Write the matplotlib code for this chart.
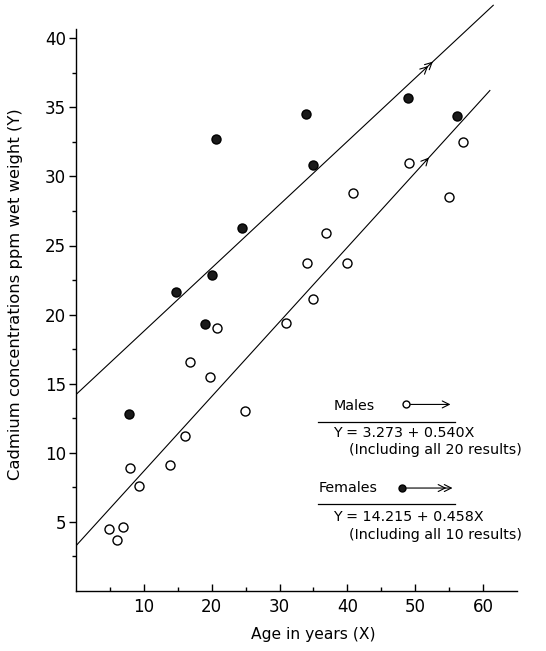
import numpy as np
import matplotlib.pyplot as plt

# males (open circles)
male_age = [4.8, 6.1, 7.0, 7.9, 9.3, 13.8, 16.0, 16.8, 19.7, 20.8,
            24.9, 30.9, 34.1, 35.0, 36.9, 39.9, 40.9, 49.1, 55.0, 57.0]
male_cd = [4.5, 3.7, 4.6, 8.9, 7.6, 9.1, 11.2, 16.6, 15.5, 19.0,
           13.0, 19.4, 23.7, 21.1, 25.9, 23.7, 28.8, 31.0, 28.5, 32.5]

# females (filled circles)
fem_age = [7.8, 14.7, 19.0, 20.1, 20.6, 24.5, 33.9, 35.0, 48.9, 56.1]
fem_cd = [12.8, 21.6, 19.3, 22.9, 32.7, 26.3, 34.5, 30.8, 35.7, 34.4]

# regression lines  Y = a + bX
male_a, male_b = 3.273, 0.540
fem_a, fem_b = 14.215, 0.458
male_xmax, fem_xmax = 61.0, 61.5

xticks = [10, 20, 30, 40, 50, 60]
yticks = [5, 10, 15, 20, 25, 30, 35, 40]

plt.rcParams['font.family'] = 'DejaVu Sans'

fig = plt.figure(figsize=(5.46, 6.51), dpi=100)
ax = fig.add_axes([76 / 546, 60 / 651, (517 - 76) / 546, 591 / 651])
ax.set_xlim(0, 65)
ax.set_ylim(0, 591 / 13.82)

# fitted lines
xm = np.array([0, male_xmax])
xf = np.array([0, fem_xmax])
ax.plot(xm, male_a + male_b * xm, color='black', lw=0.8)
ax.plot(xf, fem_a + fem_b * xf, color='black', lw=0.8)

# arrow heads on the lines
arr = dict(arrowstyle='->,head_length=0.5,head_width=0.25', lw=0.8, color='black')
xa = 52.3
ax.annotate('', xy=(xa, male_a + male_b * xa), xytext=(xa - 1, male_a + male_b * (xa - 1)),
            arrowprops=arr)
for xa in [52.2, 52.9]:
    ax.annotate('', xy=(xa, fem_a + fem_b * xa), xytext=(xa - 1, fem_a + fem_b * (xa - 1)),
                arrowprops=arr)

# points
ax.plot(male_age, male_cd, 'o', ms=6.5, mfc='white', mec='black', mew=1.0)
ax.plot(fem_age, fem_cd, 'o', ms=6.5, mfc='#1a1a1a', mec='black', mew=1.0)

# axes styling
for s in ['top', 'right']:
    ax.spines[s].set_visible(False)
ax.spines['left'].set_bounds(0, 40.7)
ax.spines['bottom'].set_bounds(0, 65)
ax.spines['left'].set_linewidth(1.0)
ax.spines['bottom'].set_linewidth(1.0)

ax.set_xticks(xticks)
ax.set_xticks(np.arange(5, 65, 5), minor=True)
ax.set_yticks(yticks)
ax.set_yticks(np.arange(2.5, 41, 2.5), minor=True)
ax.tick_params(axis='x', which='major', direction='in', length=5, width=1, labelsize=12, pad=5)
ax.tick_params(axis='x', which='minor', direction='in', length=3, width=1)
ax.tick_params(axis='y', which='major', direction='out', length=5, width=1, labelsize=12, pad=2)
ax.tick_params(axis='y', which='minor', direction='out', length=3, width=1)

fig.text(16 / 546, 1 - 294 / 651, 'Cadmium concentrations ppm wet weight (Y)',
         rotation=90, ha='center', va='center', fontsize=11.8)
fig.text(313 / 546, 1 - 634 / 651, 'Age in years (X)', ha='center', va='center', fontsize=11.2)

# key
fs = 10.3
ax.text(37.9, 13.4, 'Males', fontsize=fs, va='center')
ax.plot([48.7], [13.5], 'o', ms=5, mfc='white', mec='black', mew=1.0)
ax.annotate('', xy=(55.6, 13.5), xytext=(48.9, 13.5), arrowprops=arr)
ax.plot([35.7, 55.8], [12.2, 12.2], color='black', lw=0.9)
ax.text(37.9, 11.4, 'Y = 3.273 + 0.540X', fontsize=fs, va='center')
ax.text(40.3, 10.2, '(Including all 20 results)', fontsize=fs, va='center')

ax.text(35.7, 7.45, 'Females', fontsize=fs, va='center')
ax.plot([48.1], [7.45], 'o', ms=5, mfc='#1a1a1a', mec='black', mew=1.0)
ax.annotate('', xy=(55.0, 7.45), xytext=(48.3, 7.45), arrowprops=arr)
ax.annotate('', xy=(55.9, 7.45), xytext=(54.0, 7.45), arrowprops=arr)
ax.plot([35.7, 55.8], [6.3, 6.3], color='black', lw=0.9)
ax.text(37.9, 5.35, 'Y = 14.215 + 0.458X', fontsize=fs, va='center')
ax.text(40.3, 4.05, '(Including all 10 results)', fontsize=fs, va='center')

fig.savefig('out.png', dpi=100)
